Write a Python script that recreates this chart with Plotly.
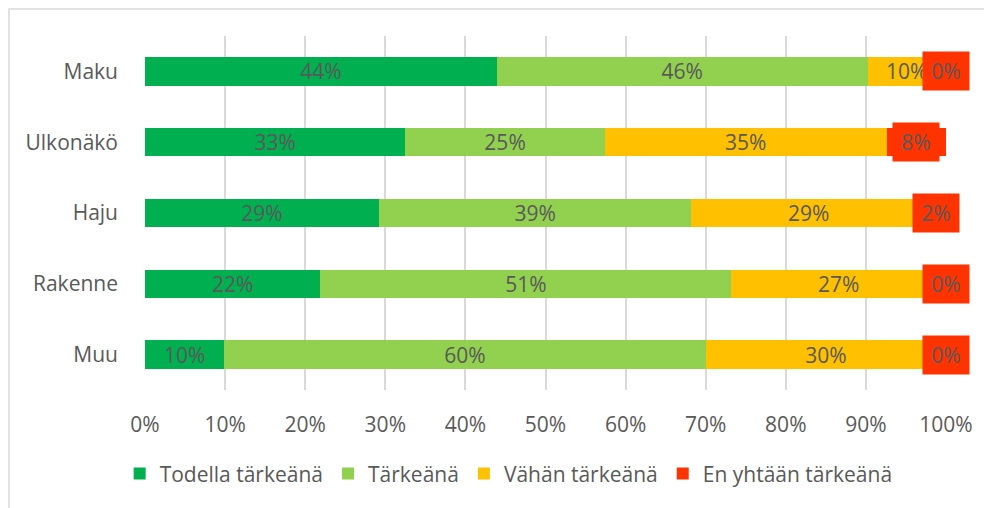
import plotly.graph_objects as go

categories = ["Maku", "Ulkonäkö", "Haju", "Rakenne", "Muu"]
series_names = ["Todella tärkeänä", "Tärkeänä", "Vähän tärkeänä", "En yhtään tärkeänä"]

# bar lengths (share of answers)
todella = [0.439, 0.325, 0.292, 0.219, 0.099]
tarkea = [0.463, 0.249, 0.390, 0.513, 0.601]
vahan = [0.098, 0.352, 0.293, 0.268, 0.300]
ei_yhtaan = [0.000, 0.074, 0.025, 0.000, 0.000]

# data labels as printed in the chart
todella_lbl = ["44%", "33%", "29%", "22%", "10%"]
tarkea_lbl = ["46%", "25%", "39%", "51%", "60%"]
vahan_lbl = ["10%", "35%", "29%", "27%", "30%"]
ei_yhtaan_lbl = ["0%", "8%", "2%", "0%", "0%"]

colors = ["#00B050", "#92D050", "#FFC000", "#FF3300"]
grey = "#595959"
font = "Open Sans"
fsize = 21

fig = go.Figure()
for name, vals, lbls, col in zip(series_names,
                                 [todella, tarkea, vahan, ei_yhtaan],
                                 [todella_lbl, tarkea_lbl, vahan_lbl, ei_yhtaan_lbl],
                                 colors):
    is_red = col == "#FF3300"
    fig.add_trace(go.Bar(
        name=name,
        y=categories,
        x=vals,
        orientation="h",
        marker=dict(color=col, line=dict(width=0)),
        text=None if is_red else lbls,
        texttemplate=None if is_red else "%{text}",
        textposition="none" if is_red else "inside",
        insidetextanchor="middle",
        textangle=0,
        constraintext="none",
        insidetextfont=dict(color=grey, size=fsize, family=font),
        hoverinfo="name+x",
    ))

# red labels with filled box, centred on the last segment
for i, cat in enumerate(categories):
    start = todella[i] + tarkea[i] + vahan[i]
    fig.add_annotation(
        x=start + ei_yhtaan[i] / 2, y=cat,
        xref="x", yref="y",
        text=ei_yhtaan_lbl[i],
        showarrow=False,
        bgcolor="#FF3300",
        width=34, height=26,
        borderpad=6,
        font=dict(color=grey, size=fsize, family=font),
    )

# outer chart border (only left/top edges fall inside the image)
fig.add_shape(type="rect", xref="paper", yref="paper",
              x0=-0.1698, x1=1.1, y0=-0.6, y1=1.0763,
              line=dict(color="#D9D9D9", width=1.5), layer="below")

fig.update_layout(
    barmode="stack",
    bargap=0.6,
    width=984, height=500,
    margin=dict(l=137, r=46, t=28, b=118),
    plot_bgcolor="white",
    paper_bgcolor="white",
    font=dict(family=font, size=fsize, color=grey),
    showlegend=True,
    legend=dict(orientation="h", x=0.454, xanchor="center",
                y=-0.237, yanchor="middle",
                font=dict(size=fsize, color=grey, family=font),
                traceorder="normal"),
    xaxis=dict(range=[0, 1], tickformat=".0%", dtick=0.1,
               showgrid=True, gridcolor="#D9D9D9", gridwidth=1.5,
               zeroline=False, showline=False,
               ticklabelstandoff=20,
               tickfont=dict(size=fsize, color=grey, family=font)),
    yaxis=dict(autorange="reversed", showgrid=False,
               showline=False, ticklabelstandoff=26,
               tickfont=dict(size=fsize, color=grey, family=font)),
)

fig.write_html("out.html")
